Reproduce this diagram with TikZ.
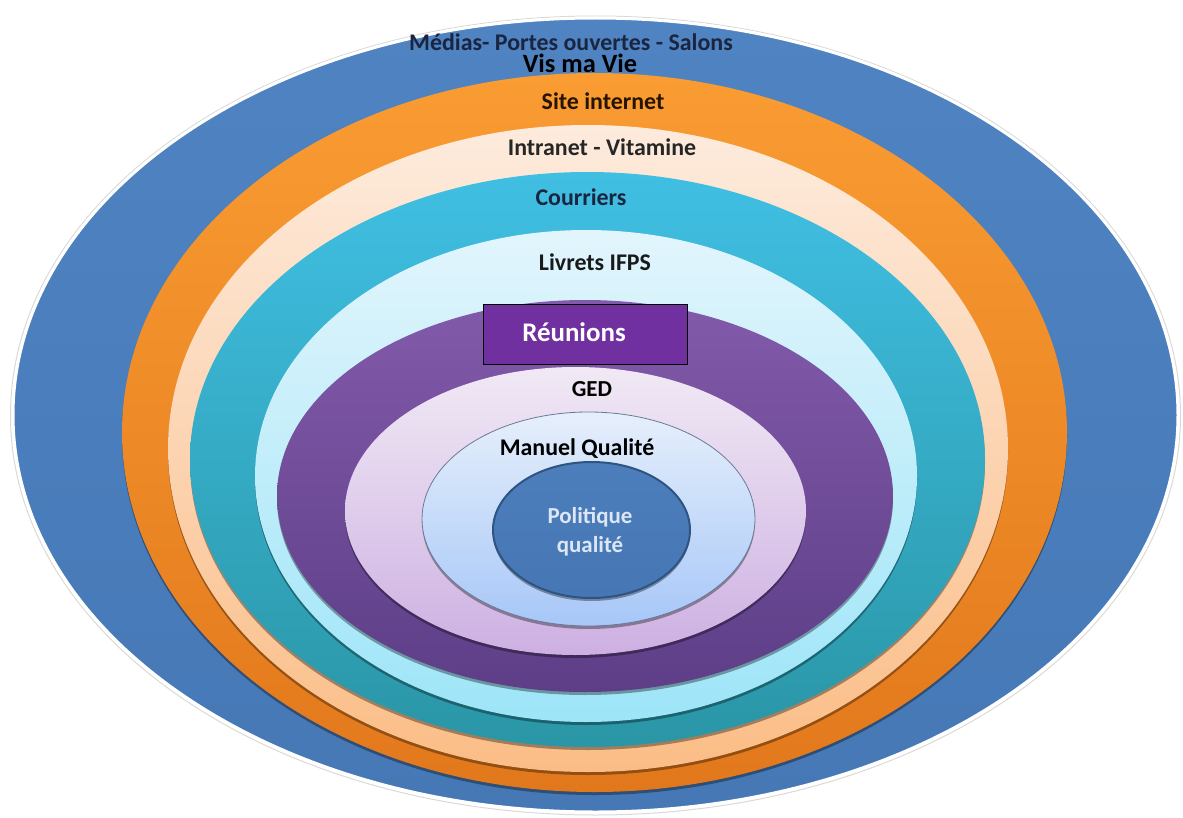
\documentclass[tikz,border=0pt]{standalone}
\usepackage{fontspec}
\setmainfont{Carlito}
\usetikzlibrary{shadows}
\definecolor{blueA}{HTML}{4F83C1}
\definecolor{blueB}{HTML}{4678B6}
\definecolor{orA}{HTML}{F99C32}
\definecolor{orB}{HTML}{E2781C}
\definecolor{peA}{HTML}{FDEBDD}
\definecolor{peB}{HTML}{FBBD86}
\definecolor{teA}{HTML}{40BFE3}
\definecolor{teB}{HTML}{2A96A6}
\definecolor{lcA}{HTML}{E2F5FC}
\definecolor{lcB}{HTML}{9DE5F8}
\definecolor{puA}{HTML}{825AAA}
\definecolor{puB}{HTML}{5D3E87}
\definecolor{laA}{HTML}{F1E9F5}
\definecolor{laB}{HTML}{CDB0E2}
\definecolor{lbA}{HTML}{E6EFFB}
\definecolor{lbB}{HTML}{A7C7F8}
\definecolor{poA}{HTML}{4C7EBB}
\definecolor{poB}{HTML}{4677B4}
\definecolor{poLine}{HTML}{2E5482}
\definecolor{lbLine}{HTML}{6A7A96}
\definecolor{reuFill}{HTML}{7030A0}
\definecolor{navy}{HTML}{1A2540}
\definecolor{poText}{HTML}{DCE6F4}
\begin{document}
\begin{tikzpicture}[x=1bp,y=-1bp,
  ring/.style={drop shadow={shadow xshift=0bp,shadow yshift=-3bp,opacity=0.35,fill=black}},
  lbl/.style={font=\bfseries\fontsize{24}{26}\selectfont,anchor=base,inner sep=0pt,text=navy}]
\useasboundingbox (0,0) rectangle (1183,818);
% outer blue
\path[draw=black!15,line width=1bp] (595.5,415.5) ellipse [x radius=585, y radius=399.5];
\path[top color=blueA,bottom color=blueB,draw=white,line width=3bp] (595.5,415) ellipse [x radius=582.5, y radius=397];
% orange
\path[ring,top color=orA,bottom color=orB] (594.5,432.5) ellipse [x radius=472.5, y radius=359.5];
% peach
\path[ring,top color=peA,bottom color=peB] (588,448.5) ellipse [x radius=420, y radius=323.5];
% teal
\path[ring,top color=teA,bottom color=teB] (587.5,459.5) ellipse [x radius=397.5, y radius=287.5];
% light cyan
\path[ring,top color=lcA,bottom color=lcB] (586,476) ellipse [x radius=331, y radius=246];
% purple
\path[ring,top color=puA,bottom color=puB] (585,496) ellipse [x radius=308, y radius=196];
% lavender
\path[ring,top color=laA,bottom color=laB] (575.5,511) ellipse [x radius=230.5, y radius=144];
% light blue
\path[ring,top color=lbA,bottom color=lbB,draw=lbLine,line width=0.8bp] (588.5,519) ellipse [x radius=166.5, y radius=107];
% politique
\path[ring,top color=poA,bottom color=poB,draw=poLine,line width=2bp] (591.5,530) ellipse [x radius=98.5, y radius=68];

% labels
\node[lbl] (medias) at (571,51) {Médias- Portes ouvertes - Salons};
\node[lbl,text=black,font=\bfseries\fontsize{26.5}{28}\selectfont] (vis) at (580,73) {Vis ma Vie};
\node[lbl,text=black!85!orange] (site) at (603,110) {Site internet};
\node[lbl,text=black!85] (intra) at (602,155) {Intranet - Vitamine};
\node[lbl] (cour) at (581,205) {Courriers};
\node[lbl,text=black!90] (livr) at (595,270) {Livrets IFPS};
\node[draw=black,line width=1bp,fill=reuFill,minimum width=204bp,minimum height=60bp,inner sep=0pt] (reubox) at (585,334) {};
\node[lbl,text=white,font=\bfseries\fontsize{27}{29}\selectfont] (reu) at (574,341) {Réunions};
\node[lbl,text=black,font=\bfseries\fontsize{23}{25}\selectfont] (ged) at (592,396) {GED};
\node[lbl,text=black] (manuel) at (577,455) {Manuel Qualité};
\node[lbl,text=poText,font=\bfseries\fontsize{23}{25}\selectfont] (poli) at (590,523) {Politique};
\node[lbl,text=poText,font=\bfseries\fontsize{23}{25}\selectfont] (qual) at (590,552) {qualité};
\end{tikzpicture}
\end{document}
